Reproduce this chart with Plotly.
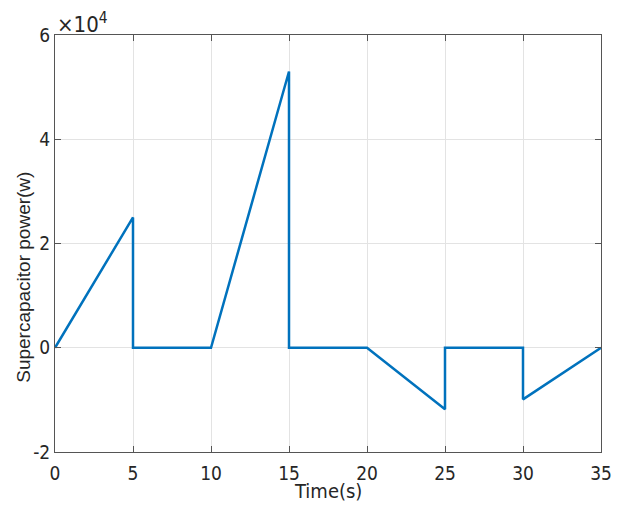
import plotly.graph_objects as go

time_s = [0, 5, 5, 10, 15, 15, 20, 25, 25, 30, 30, 35]
power_w = [0, 25000, 0, 0, 53000, 0, 0, -11800, 0, 0, -9900, 0]
x_ticks = [0, 5, 10, 15, 20, 25, 30, 35]
y_ticks = [-20000, 0, 20000, 40000, 60000]
y_tick_labels = ["-2", "0", "2", "4", "6"]

FONT = "Liberation Sans Narrow, DejaVu Sans Condensed, Liberation Sans, Arial"

fig = go.Figure()
fig.add_trace(go.Scatter(x=time_s, y=power_w, mode="lines",
                         line=dict(color="#0072BD", width=2.5), showlegend=False))

axis_common = dict(showline=True, linecolor="#555555", linewidth=1, mirror="ticks",
                   ticks="inside", ticklen=6, tickcolor="#555555", automargin=False,
                   showgrid=True, gridcolor="#E3E3E3", gridwidth=1, zeroline=False,
                   tickfont=dict(family=FONT, size=19, color="#262626"))

fig.update_xaxes(range=[0, 35], tickvals=x_ticks, ticklabelstandoff=4, **axis_common)
fig.update_yaxes(range=[-20000, 60000], tickvals=y_ticks, ticktext=y_tick_labels, **axis_common)

fig.add_annotation(text="×10<sup>4</sup>", xref="paper", yref="paper", x=0.0, y=1.0,
                   xanchor="left", yanchor="bottom", showarrow=False, yshift=-4,
                   font=dict(family=FONT, size=22, color="#262626"))
fig.add_annotation(text="Time(s)", xref="paper", yref="paper", x=0.5, y=0,
                   xanchor="center", yanchor="top", showarrow=False, yshift=-25,
                   font=dict(family=FONT, size=20, color="#262626"))
fig.add_annotation(text="Supercapacitor power(w)", xref="paper", yref="paper", x=0, y=0.16,
                   xanchor="center", yanchor="bottom", showarrow=False, textangle=-90, xshift=-31,
                   font=dict(family="Liberation Sans, Arial", size=19, color="#262626"))

fig.update_layout(width=617, height=498, margin=dict(l=47, r=24, t=27, b=54),
                  plot_bgcolor="white", paper_bgcolor="white")
fig.write_html("out.html")
